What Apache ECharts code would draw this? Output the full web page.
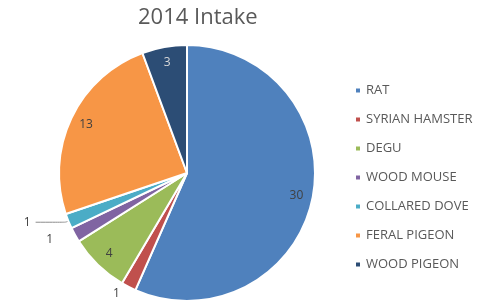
<!DOCTYPE html>
<html>
<head>
<meta charset="utf-8">
<script src="https://cdn.jsdelivr.net/npm/echarts@6/dist/echarts.min.js"></script>
<style>
  html, body { margin: 0; padding: 0; background: #fff; }
  #main { width: 496px; height: 305px; }
</style>
</head>
<body>
<div id="main"></div>
<script>
// 2014 intake by species
var species = ['RAT', 'SYRIAN HAMSTER', 'DEGU', 'WOOD MOUSE', 'COLLARED DOVE', 'FERAL PIGEON', 'WOOD PIGEON'];
var intake = [30, 1, 4, 1, 1, 13, 3];
var colors = ['#4F81BD', '#C0504D', '#9BBB59', '#8064A2', '#4BACC6', '#F79646', '#2C4D75'];

var chart = echarts.init(document.getElementById('main'));

var R = 128;
var center = [187, 173];

// real slices; the small ones get their labels outside
var pieData = species.map(function (name, i) {
    var small = intake[i] < 2;
    return {
        name: name,
        value: intake[i],
        label: { show: small },
        labelLine: {
            show: small && i === 4,
            length: i === 4 ? 3 : (i === 1 ? 8 : 10),
            length2: i === 4 ? 30 : (i === 1 ? 0 : 8)
        }
    };
});

// transparent ring only used to push the big labels out toward the rim
var ringData = species.map(function (name, i) {
    return {
        name: name,
        value: intake[i],
        label: { color: i === 6 ? '#d9d9d9' : '#404040' }
    };
});

var option = {
    color: colors,
    animation: false,
    title: {
        text: '2014 Intake',
        left: 133,
        top: 2,
        textStyle: {
            fontFamily: 'Open Sans',
            fontSize: 22,
            fontWeight: 'normal',
            color: '#595959'
        }
    },
    legend: {
        data: species,
        orient: 'vertical',
        left: 349,
        top: 79,
        itemWidth: 6,
        itemHeight: 6,
        itemGap: 16,
        icon: 'rect',
        selectedMode: false,
        textStyle: {
            fontFamily: 'Open Sans',
            fontSize: 13,
            color: '#595959'
        }
    },
    series: [
        {
            name: 'intake',
            type: 'pie',
            center: center,
            radius: [0, R],
            startAngle: 90,
            clockwise: true,
            avoidLabelOverlap: false,
            silent: true,
            itemStyle: { borderColor: '#fff', borderWidth: 2 },
            label: {
                position: 'outside',
                formatter: '{c}',
                fontFamily: 'Open Sans',
                fontSize: 12,
                color: '#404040'
            },
            labelLine: {
                smooth: 0.3,
                lineStyle: { color: '#8c8c8c', width: 1 }
            },
            data: pieData
        },
        {
            name: 'labels',
            type: 'pie',
            center: center,
            radius: [R * 0.7, R],
            startAngle: 90,
            clockwise: true,
            silent: true,
            avoidLabelOverlap: false,
            itemStyle: { color: 'rgba(0,0,0,0)', borderWidth: 0 },
            label: {
                position: 'inside',
                formatter: function (p) { return p.value >= 2 ? String(p.value) : ''; },
                fontFamily: 'Open Sans',
                fontSize: 12,
                color: '#404040'
            },
            labelLine: { show: false },
            data: ringData
        }
    ]
};

chart.setOption(option);
</script>
</body>
</html>
